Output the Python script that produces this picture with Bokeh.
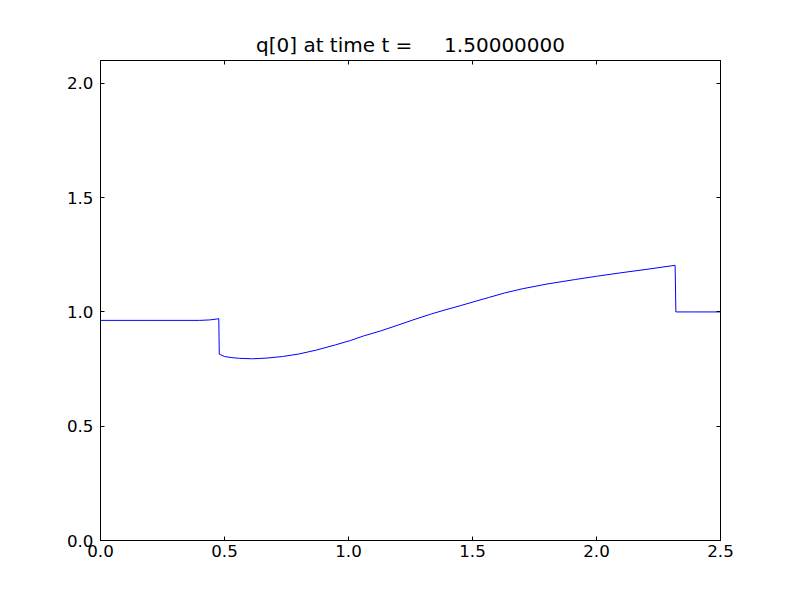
from bokeh.plotting import figure
from bokeh.models import Range1d, LinearAxis, FixedTicker, PrintfTickFormatter, CustomJSTickFormatter
from bokeh.embed import file_html
from bokeh.resources import INLINE

# data
x_vals = [0.0, 0.20, 0.40, 0.44, 0.47, 0.477, 0.479, 0.50, 0.53, 0.56, 0.613, 0.67, 0.734, 0.80,
          0.87, 0.948, 1.008, 1.061, 1.13, 1.196, 1.26, 1.331, 1.39, 1.45, 1.51, 1.565, 1.63,
          1.70, 1.80, 1.915, 2.00, 2.097, 2.20, 2.317, 2.320, 2.40, 2.50]
y_vals = [0.963, 0.963, 0.963, 0.965, 0.969, 0.971, 0.815, 0.805, 0.800, 0.797, 0.795, 0.798, 0.805, 0.816,
          0.833, 0.856, 0.875, 0.895, 0.917, 0.941, 0.965, 0.990, 1.009, 1.027, 1.046, 1.063, 1.083,
          1.101, 1.122, 1.142, 1.156, 1.171, 1.186, 1.204, 1.000, 1.000, 1.000]
x_ticks = [0.0, 0.5, 1.0, 1.5, 2.0, 2.5]
y_ticks = [0.0, 0.5, 1.0, 1.5, 2.0]
title_text = "q[0] at time t = \u00a0\u00a0\u00a0\u00a01.50000000"

W, H = 790, 590
p = figure(width=W, height=H, output_backend="svg", toolbar_location=None,
           x_range=Range1d(0, 2.5), y_range=Range1d(0, 2.1),
           x_axis_location=None, y_axis_location=None,
           min_border_left=100, min_border_right=70, min_border_top=60, min_border_bottom=50)
p.background_fill_color = "white"
p.border_fill_color = "white"
p.outline_line_color = "black"
p.outline_line_width = 1
p.xgrid.visible = False
p.ygrid.visible = False

p.line(x_vals, y_vals, line_color="#0000ff", line_width=1)

font = "DejaVu Sans"

def style(ax, labels=True):
    ax.major_tick_in = 4
    ax.major_tick_out = 0
    ax.minor_tick_line_color = None
    ax.axis_line_color = "black"
    ax.major_tick_line_color = "black"
    ax.major_label_text_font = font
    ax.major_label_text_font_size = "16.7px"
    ax.major_label_text_color = "black"
    if not labels:
        ax.major_label_text_font_size = "0px"

bx = LinearAxis(ticker=FixedTicker(ticks=x_ticks), formatter=PrintfTickFormatter(format="%.1f"))
style(bx)
bx.major_label_standoff = 4
p.add_layout(bx, "below")

ly = LinearAxis(ticker=FixedTicker(ticks=y_ticks), formatter=PrintfTickFormatter(format="%.1f"))
style(ly)
ly.major_label_standoff = 7
p.add_layout(ly, "left")

tx = LinearAxis(ticker=FixedTicker(ticks=x_ticks), formatter=CustomJSTickFormatter(code="return ''"))
style(tx, labels=False)
tx.major_label_standoff = 0
p.add_layout(tx, "above")

ry = LinearAxis(ticker=FixedTicker(ticks=y_ticks), formatter=CustomJSTickFormatter(code="return ''"))
style(ry, labels=False)
ry.major_label_standoff = 0
p.add_layout(ry, "right")

p.title.text = title_text
p.title.align = "center"
p.title.text_font = font
p.title.text_font_size = "20px"
p.title.text_font_style = "normal"
p.title.text_color = "black"
p.title.standoff = 7

open("out.html", "w").write(file_html(p, INLINE))
